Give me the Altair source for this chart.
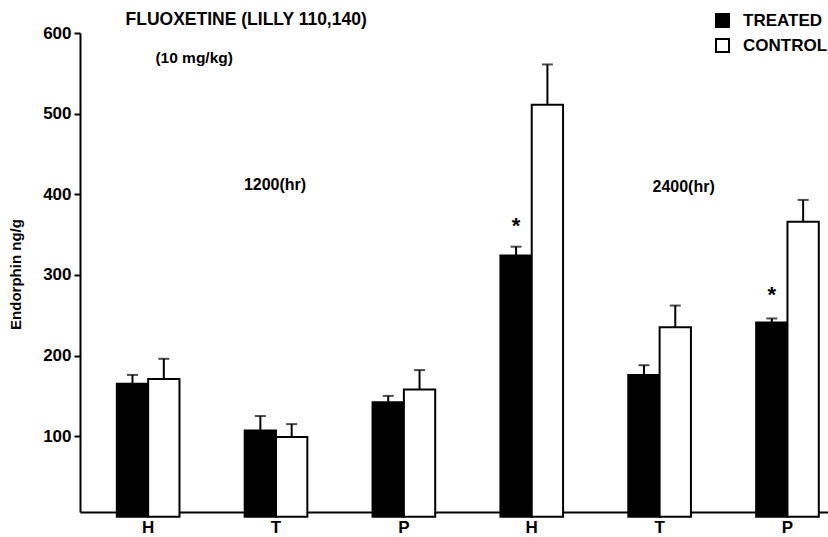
import altair as alt
import pandas as pd

# ---- data ----
groups = ["H_1200", "T_1200", "P_1200", "H_2400", "T_2400", "P_2400"]
series = ["TREATED", "CONTROL"]
treated = [165, 107, 142, 324, 176, 241]
treated_err = [11, 18, 8, 11, 12, 5]
control = [171, 99, 158, 511, 235, 366]
control_err = [25, 16, 24, 50, 27, 27]
star_groups = ["H_2400", "P_2400"]
star_y = [365, 279]
yticks = [100, 200, 300, 400, 500, 600]
notes_text = ["FLUOXETINE (LILLY 110,140)", "(10 mg/kg)", "1200(hr)", "2400(hr)"]
notes_group = ["H_1200", "H_1200", "T_1200", "T_2400"]
notes_y = [616, 569, 412, 409]
notes_dx = [98, 46, -1, 24]
notes_size = [17.5, 15.5, 16, 16]

FONT = "Liberation Sans"

rows = []
for g, v, e in zip(groups, treated, treated_err):
    rows.append({"group": g, "series": "TREATED", "value": v, "high": v + e})
for g, v, e in zip(groups, control, control_err):
    rows.append({"group": g, "series": "CONTROL", "value": v, "high": v + e})
df = pd.DataFrame(rows)
stars = pd.DataFrame({"group": star_groups, "series": ["TREATED"] * len(star_groups), "y": star_y})

xscale = alt.Scale(domain=groups, paddingInner=0.51, paddingOuter=0.18, align=0.8)
yscale = alt.Scale(domain=[6, 600], nice=False, zero=False)
offscale = alt.Scale(domain=series, paddingInner=0, paddingOuter=0)

x_enc = alt.X("group:N", scale=xscale, title=None,
              axis=alt.Axis(labelExpr="split(datum.value, '_')[0]", labelAngle=0,
                            ticks=False, labelPadding=7, labelFontSize=17,
                            labelFont=FONT, labelFontWeight="bold", labelColor="black",
                            domainColor="black", domainWidth=2))
xo_enc = alt.XOffset("series:N", scale=offscale)

bars = alt.Chart(df).mark_bar(stroke="black", strokeWidth=2).encode(
    x=x_enc,
    xOffset=xo_enc,
    y=alt.Y("value:Q", scale=yscale, title="Endorphin  ng/g",
            axis=alt.Axis(values=yticks, grid=False, domainColor="black", domainWidth=2,
                          tickColor="black", tickWidth=2, tickSize=6, labelPadding=3,
                          labelFont=FONT, labelFontSize=17, labelFontWeight="bold",
                          labelColor="black", titleFont=FONT, titleFontSize=15,
                          titleFontWeight="bold", titleColor="black", titleX=-65,
                          titleY=241, titleAngle=-90, titleAlign="center",
                          titleBaseline="middle")),
    fill=alt.Fill("series:N", scale=alt.Scale(domain=series, range=["black", "white"]),
                  legend=alt.Legend(title=None, orient="none", legendX=634, legendY=-21,
                                    symbolType="square", symbolSize=170,
                                    symbolStrokeColor="black", symbolStrokeWidth=2,
                                    labelFont=FONT, labelFontSize=17, labelFontWeight="bold",
                                    labelColor="black", rowPadding=2, labelOffset=12,
                                    padding=0)),
)

err = alt.Chart(df).mark_rule(color="black", strokeWidth=2).encode(
    x=alt.X("group:N", scale=xscale),
    xOffset=xo_enc,
    y=alt.Y("value:Q", scale=yscale),
    y2="high:Q",
)
caps = alt.Chart(df).mark_tick(color="black", thickness=2, size=11).encode(
    x=alt.X("group:N", scale=xscale),
    xOffset=xo_enc,
    y=alt.Y("high:Q", scale=yscale),
)
star = alt.Chart(stars).mark_text(text="*", font=FONT, fontSize=22, fontWeight="bold",
                                  baseline="alphabetic", dy=10, color="black").encode(
    x=alt.X("group:N", scale=xscale),
    xOffset=xo_enc,
    y=alt.Y("y:Q", scale=yscale),
)

layers = [bars, err, caps, star]
for t, g, yv, dx, fs in zip(notes_text, notes_group, notes_y, notes_dx, notes_size):
    nd = pd.DataFrame({"group": [g], "y": [yv], "label": [t]})
    layers.append(
        alt.Chart(nd).mark_text(font=FONT, fontSize=fs, fontWeight="bold", color="black",
                                baseline="middle", align="center", dx=dx).encode(
            x=alt.X("group:N", scale=xscale),
            y=alt.Y("y:Q", scale=yscale),
            text="label:N",
        )
    )

chart = alt.layer(*layers).properties(
    width=748, height=479,
    autosize=alt.AutoSizeParams(type="none"),
    padding={"left": 80, "top": 33, "right": 0, "bottom": 25},
    background="white",
).configure_view(stroke=None)

chart.save("out.html", embed_options={"renderer": "svg", "actions": False})
